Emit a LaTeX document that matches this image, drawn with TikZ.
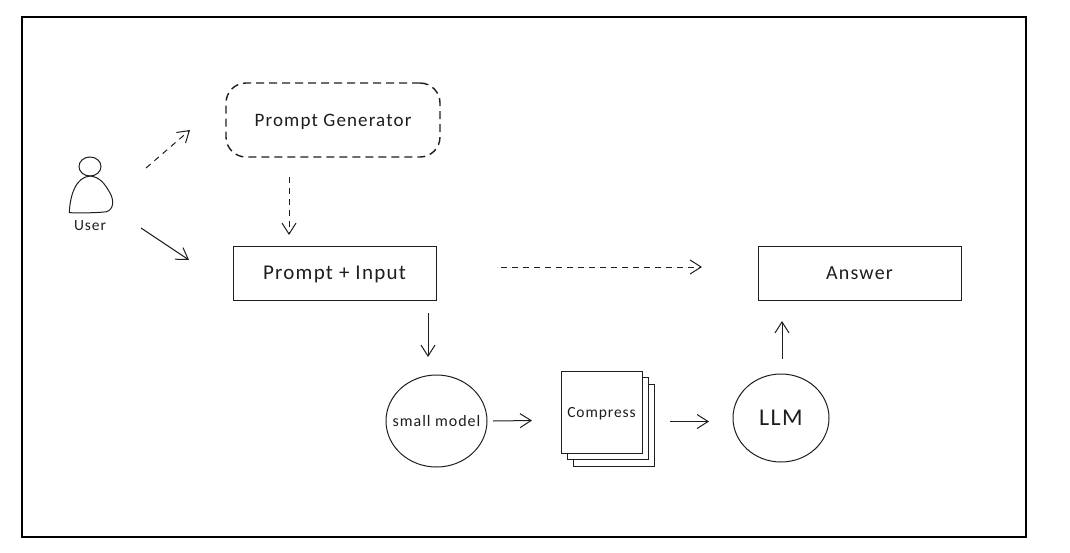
\documentclass[tikz,border=0pt]{standalone}
\usepackage{fontspec}
\setmainfont{Carlito}[LetterSpace=6]
\usepackage{xcolor}
\usetikzlibrary{shapes.geometric}
\usetikzlibrary{arrows.meta}
\usetikzlibrary{shadows}
\usetikzlibrary{positioning}
\definecolor{myblack}{HTML}{1E1E1E}
\tikzset{every text node part/.style={align=center, text=myblack}}
\tikzstyle{block} = [draw=myblack, fill=white, line width=1pt, outer sep=0pt, inner sep=0pt, text depth=0pt, font={\fontsize{20}{22}\selectfont}]
\tikzstyle{round} = [block, ellipse, inner sep=-12pt]
\tikzstyle{ln} = [draw=myblack, line width=1pt, -{Straight Barb[length=11pt,width=14pt]}]
\tikzstyle{dln} = [ln, dash pattern=on 6pt off 5pt]

\begin{document}
\begin{tikzpicture}[x=1pt, y=-1pt]
  \useasboundingbox (0,0) rectangle (1070,552);
  \draw[draw=black, line width=1.1pt] (22,17) rectangle (1026,537);
  \node[block, dash pattern=on 8pt off 5pt, line width=1.4pt, rounded corners=20pt, minimum width=214pt, minimum height=74pt, font={\fontsize{19}{22}\selectfont}] (gen) at (333,120) {Prompt Generator};
  \node[block, minimum width=203pt, minimum height=54pt, below=89pt of gen.south, xshift=1.5pt, font={\fontsize{21}{22}\selectfont}] (input) {Prompt + Input};
  \node[block, minimum width=203pt, minimum height=54pt, right=322pt of input] (answer) {Answer};
  \node[round, minimum width=101pt, minimum height=92pt, font={\fontsize{16}{18}\selectfont}] (small) at (436.5,421) {small model};
  \node[block, minimum width=81pt, minimum height=82pt, right=74pt of small, yshift=9pt, font={\fontsize{15.5}{18}\selectfont},
    double copy shadow={shadow xshift=6pt, shadow yshift=-6.5pt, draw=myblack, fill=white}] (compress) {Compress};
  \node[round, minimum width=96pt, minimum height=88pt, right=91pt of compress, yshift=-6pt, font={\fontsize{24}{26}\selectfont}] (llm) {LLM};
  % user figure
  \node[block, ellipse, minimum width=22pt, minimum height=19pt] (head) at (90,166.5) {};
  \draw[draw=myblack, line width=1pt] (head.south) .. controls (76,177) and (70,195) .. (69.3,212.7)
    .. controls (82,213) and (96,213) .. (106.7,211.7) .. controls (114,209) and (114,200) .. (110,193)
    .. controls (105,184) and (100,177) .. (head.south);
  \node[font={\fontsize{15.5}{17}\selectfont}, inner sep=0pt] (user) at (90,226) {User};

  \draw[dln] ([xshift=45pt,yshift=-1.5pt]head.east) -- ([xshift=-36pt,yshift=-10pt]gen.west);
  \draw[ln] ([xshift=51pt,yshift=-2pt]user.center) -- ([xshift=-44pt,yshift=13pt]input.west);
  \draw[dln] ([xshift=-44pt,yshift=-20pt]gen.south) -- ([xshift=-45.5pt,yshift=11pt]input.north);
  \draw[dln] ([xshift=65pt,yshift=6pt]input.east) -- ([xshift=-56pt,yshift=6pt]answer.west);
  \draw[ln] ([xshift=93.5pt,yshift=-13pt]input.south) -- ([xshift=-8.5pt,yshift=18pt]small.north);
  \draw[ln] ([xshift=6pt]small.east) -- ([xshift=-29pt,yshift=-8.5pt]compress.west);
  \draw[ln] ([xshift=28pt,yshift=-9.5pt]compress.east) -- ([xshift=-24pt,yshift=-3.5pt]llm.west);
  \draw[ln] ([xshift=1pt,yshift=15pt]llm.north) -- ([xshift=-77.5pt,yshift=-21pt]answer.south);
\end{tikzpicture}
\end{document}
